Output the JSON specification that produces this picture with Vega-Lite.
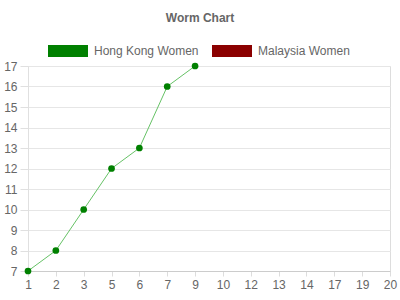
{
  "$schema": "https://vega.github.io/schema/vega-lite/v6.json",
  "width": 362,
  "height": 205,
  "autosize": "none",
  "padding": {"left": 28, "top": 66, "right": 10, "bottom": 29},
  "title": {"text": "Worm Chart", "fontSize": 12, "fontWeight": "bold", "color": "#666666", "font": "Liberation Sans", "anchor": "middle", "dx": -9, "offset": 6},
  "data": {"values": [
    {"over": "1", "runs": 7, "team": "Hong Kong Women"},
    {"over": "2", "runs": 8, "team": "Hong Kong Women"},
    {"over": "3", "runs": 10, "team": "Hong Kong Women"},
    {"over": "5", "runs": 12, "team": "Hong Kong Women"},
    {"over": "6", "runs": 13, "team": "Hong Kong Women"},
    {"over": "7", "runs": 16, "team": "Hong Kong Women"},
    {"over": "9", "runs": 17, "team": "Hong Kong Women"}
  ]},
  "encoding": {
    "x": {"field": "over", "type": "ordinal", "sort": null,
      "scale": {"type": "point", "domain": ["1","2","3","5","6","7","9","10","12","13","14","17","19","20"], "padding": 0},
      "axis": {"title": null, "labelAngle": 0, "grid": false, "domainColor": "#cccccc", "tickColor": "#dddddd", "tickSize": 5, "labelPadding": 3, "labelColor": "#666666", "labelFontSize": 12, "labelFont": "Liberation Sans"}},
    "y": {"field": "runs", "type": "quantitative",
      "scale": {"domain": [7, 17], "nice": false, "zero": false},
      "axis": {"title": null, "values": [7,8,9,10,11,12,13,14,15,16,17], "grid": true, "gridColor": "#e6e6e6", "domainColor": "#e0e0e0", "tickColor": "#e0e0e0", "tickSize": 8, "labelPadding": 3, "labelColor": "#666666", "labelFontSize": 12, "labelFont": "Liberation Sans"}}
  },
  "layer": [
    {"mark": {"type": "line", "color": "#66c266", "strokeWidth": 1}},
    {"mark": {"type": "point", "filled": true, "size": 45, "opacity": 1},
     "encoding": {"color": {"field": "team", "type": "nominal",
       "scale": {"domain": ["Hong Kong Women", "Malaysia Women"], "range": ["#008000", "#8b0000"]},
       "legend": {"title": null, "orient": "none", "legendX": 20, "legendY": -35, "direction": "horizontal",
         "symbolType": "M-1,-0.3H1V0.3H-1Z", "symbolSize": 1600, "symbolOpacity": 1, "symbolStrokeWidth": 0,
         "labelFontSize": 12, "labelColor": "#666666", "labelFont": "Liberation Sans", "labelOffset": 6, "columnPadding": 13}}}}
  ]
}
